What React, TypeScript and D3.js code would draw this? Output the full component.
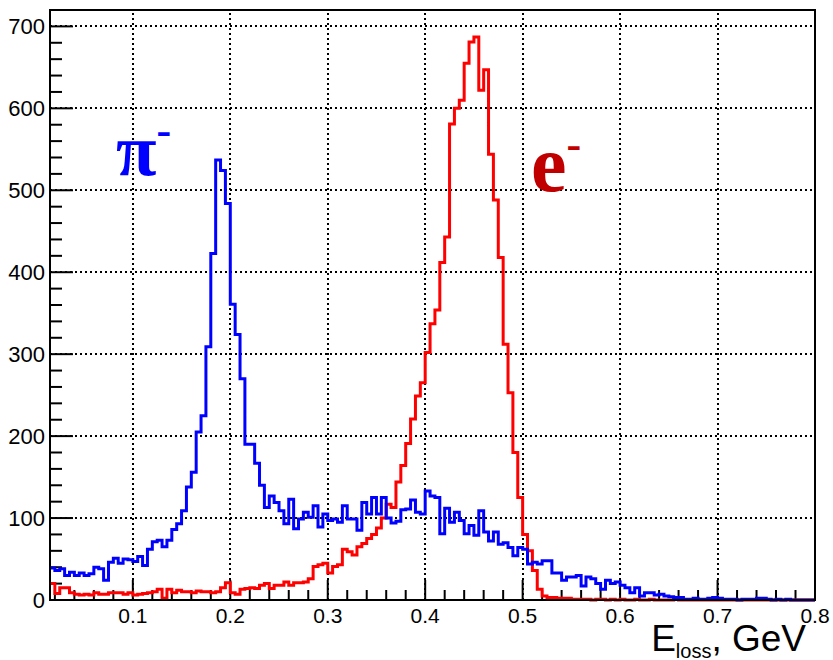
import React from 'react';
import * as d3 from 'd3';

// histogram binning (GeV)
const binStart = 0.015;
const binWidth = 0.005;
const xMax = 0.8;

// pi- energy loss counts
const pionCounts = [
  39, 36, 38, 30, 34, 30, 33, 30, 32, 40,
  38, 24, 46, 51, 45, 50, 49, 47, 53, 42,
  62, 71, 73, 65, 73, 86, 93, 109, 138, 156,
  205, 225, 309, 423, 537, 524, 484, 361, 324, 270,
  190, 190, 167, 140, 113, 127, 119, 109, 93, 123,
  87, 99, 107, 101, 115, 89, 105, 97, 99, 95,
  115, 99, 99, 85, 119, 105, 125, 105, 125, 100,
  94, 96, 110, 111, 122, 107, 105, 133, 127, 125,
  81, 112, 95, 107, 97, 81, 91, 79, 109, 83,
  72, 83, 68, 70, 64, 54, 64, 62, 44, 46,
  44, 48, 48, 33, 33, 24, 28, 28, 30, 17,
  28, 26, 20, 13, 24, 20, 22, 18, 15, 9,
  15, 5, 9, 9, 6, 7, 5, 4, 3, 3,
  1, 1, 2, 1, 1, 2, 3, 2, 1, 1,
  1, 0, 1, 1, 1, 2, 2, 1, 0, 1,
  0, 1, 0, 0, 0, 0, 0,
];

// e- energy loss counts
const electronCounts = [
  20, 8, 15, 15, 9, 7, 6, 7, 6, 9,
  7, 7, 9, 9, 9, 7, 9, 6, 7, 8,
  9, 10, 13, 2, 13, 9, 12, 10, 10, 9,
  11, 10, 10, 9, 10, 15, 21, 9, 7, 13,
  14, 15, 14, 18, 20, 14, 18, 18, 22, 18,
  21, 21, 22, 26, 41, 43, 45, 33, 41, 43,
  62, 59, 55, 65, 69, 75, 80, 88, 100, 117,
  113, 144, 164, 191, 221, 249, 265, 302, 337, 354,
  412, 443, 581, 600, 610, 655, 681, 687, 622, 647,
  544, 488, 418, 312, 253, 180, 125, 80, 60, 36,
  13, 5, 3, 3, 2, 2, 2, 1, 1, 1,
  1, 0, 1, 1, 0, 1, 0, 1, 0, 0,
  1, 0, 0, 1, 0, 0, 0, 0, 1, 0,
  0, 0, 0, 0, 0, 0, 0, 0, 0, 0,
  0, 0, 0, 0, 0, 0, 0, 0, 0, 0,
  0, 0, 0, 0, 0, 0, 0,
];

const xTicks = [0.1, 0.2, 0.3, 0.4, 0.5, 0.6, 0.7, 0.8];
const yTicks = [0, 100, 200, 300, 400, 500, 600, 700];

const W = 833;
const H = 660;
const font = 'Liberation Sans, Arial, Helvetica, sans-serif';

export default function App() {
  const x = d3.scaleLinear().domain([binStart, xMax]).range([50, 815]);
  const y = d3.scaleLinear().domain([0, 720]).range([600, 10]);

  const toPoints = (counts: number[]): [number, number][] => {
    const pts = counts.map((c, i) => [binStart + i * binWidth, c] as [number, number]);
    pts.push([binStart + counts.length * binWidth, counts[counts.length - 1]]);
    return pts;
  };

  const line = d3
    .line<[number, number]>()
    .x(d => x(d[0]))
    .y(d => y(d[1]))
    .curve(d3.curveStepAfter);

  const xMinor = d3.range(0.02, xMax + 0.001, 0.02).filter(v => Math.abs(v * 10 - Math.round(v * 10)) > 0.01);
  const yMinor = d3.range(20, 720, 20).filter(v => v % 100 !== 0);

  const [x0, x1] = x.range();
  const [y0, y1] = y.range();

  return (
    <svg width={W} height={H} style={{ position: 'absolute', left: 0, top: 0, background: '#fff' }}>
      {/* grid */}
      <g stroke="#000" strokeWidth={2} strokeDasharray="2 3" shapeRendering="crispEdges">
        {xTicks.filter(t => t < xMax).map(t => (
          <line key={'gx' + t} x1={Math.round(x(t))} x2={Math.round(x(t))} y1={y0} y2={y1} />
        ))}
        {yTicks.filter(t => t > 0).map(t => (
          <line key={'gy' + t} x1={x0} x2={x1} y1={Math.round(y(t))} y2={Math.round(y(t))} />
        ))}
      </g>

      {/* ticks */}
      <g stroke="#000" strokeWidth={2}>
        {xTicks.map(t => (
          <line key={'tx' + t} x1={x(t)} x2={x(t)} y1={y0} y2={y0 - 20} />
        ))}
        {xMinor.map(t => (
          <line key={'mx' + t} x1={x(t)} x2={x(t)} y1={y0} y2={y0 - 10} />
        ))}
        {yTicks.map(t => (
          <line key={'ty' + t} x1={x0} x2={x0 + 23} y1={y(t)} y2={y(t)} />
        ))}
        {yMinor.map(t => (
          <line key={'my' + t} x1={x0} x2={x0 + 12} y1={y(t)} y2={y(t)} />
        ))}
      </g>

      {/* histograms */}
      <path d={line(toPoints(electronCounts)) || ''} fill="none" stroke="#ff0000" strokeWidth={3} />
      <path d={line(toPoints(pionCounts)) || ''} fill="none" stroke="#0000ff" strokeWidth={3} />

      {/* frame */}
      <rect x={x0} y={y1} width={x1 - x0} height={y0 - y1} fill="none" stroke="#000" strokeWidth={2} />

      {/* tick labels */}
      <g fontFamily={font} fill="#000">
        {xTicks.map(t => (
          <text key={'lx' + t} x={x(t)} y={623} textAnchor="middle" fontSize={21}>
            {t.toFixed(1)}
          </text>
        ))}
        {yTicks.map(t => (
          <text key={'ly' + t} x={45} y={y(t)} textAnchor="end" dominantBaseline="central" fontSize={22}>
            {t}
          </text>
        ))}
      </g>

      {/* axis title */}
      <text x={806} y={651} textAnchor="end" fontFamily={font} fontSize={37} fill="#000">
        E
        <tspan fontSize={20} dy={7}>loss</tspan>
        <tspan dy={-7}>, GeV</tspan>
      </text>

      {/* particle labels */}
      <text x={116} y={175} fontFamily="Liberation Serif, Times New Roman, serif" fontWeight="bold" fontSize={74} fill="#0000ff">
        π
        <tspan fontSize={44} dy={-30}>-</tspan>
      </text>
      <text x={531} y={191} fontFamily="Liberation Serif, Times New Roman, serif" fontWeight="bold" fontSize={80} fill="#c00000">
        e
        <tspan fontSize={44} dy={-32}>-</tspan>
      </text>
    </svg>
  );
}
